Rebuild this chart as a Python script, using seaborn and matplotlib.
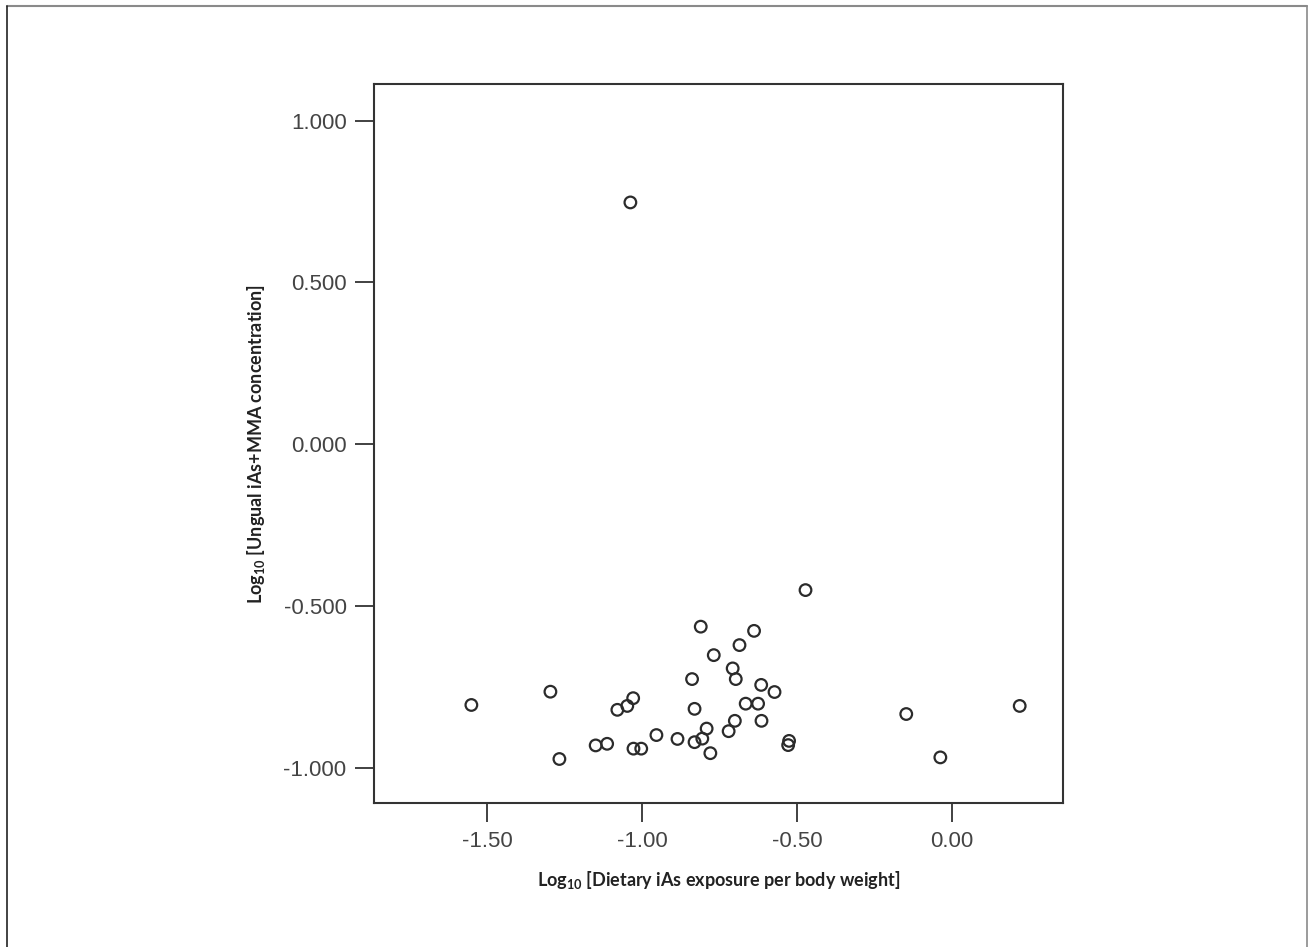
import numpy as np
import pandas as pd
import seaborn as sns
import matplotlib.pyplot as plt
from matplotlib.lines import Line2D
from matplotlib.ticker import FormatStrFormatter

# log10 dietary iAs exposure per body weight vs log10 ungual iAs+MMA
dietary = [-0.473, -0.811, -0.639, -0.686, -0.769, -0.708, -0.839, -0.698, -0.616, -0.573,
           -1.296, -1.029, -1.048, -1.080, -0.666, -0.626, -0.831, -0.615, -0.701, -0.792,
           -0.954, -0.721, -0.886, -0.806, -0.831, -0.526, -0.529, -1.113, -1.150, -1.028,
           -1.003, -0.780, -1.267, -1.551, -0.148, 0.218, -0.038, -1.038]
ungual = [-0.451, -0.564, -0.577, -0.621, -0.652, -0.693, -0.726, -0.726, -0.744, -0.766,
          -0.765, -0.785, -0.809, -0.821, -0.802, -0.802, -0.818, -0.855, -0.855, -0.879,
          -0.899, -0.887, -0.911, -0.910, -0.921, -0.917, -0.930, -0.926, -0.931, -0.941,
          -0.941, -0.955, -0.973, -0.806, -0.834, -0.809, -0.968, 0.747]
xticks = [-1.5, -1.0, -0.5, 0.0]
yticks = [1.0, 0.5, 0.0, -0.5, -1.0]

df = pd.DataFrame({'dietary': dietary, 'ungual': ungual})

sns.set_style('white')
plt.rcParams['font.family'] = ['Liberation Sans', 'DejaVu Sans']
plt.rcParams['mathtext.fontset'] = 'custom'

fig = plt.figure(figsize=(13.08, 9.47), dpi=100)
ax = fig.add_axes([0.2862, 0.1517, 0.5268, 0.7596])

sns.scatterplot(data=df, x='dietary', y='ungual', ax=ax, marker='o', s=70,
                facecolor='none', edgecolor='#2b2b2b', linewidth=1.6, legend=False)

ax.set_xlim(-1.864, 0.359)
ax.set_ylim(-1.110, 1.113)
ax.set_xticks(xticks)
ax.set_yticks(yticks)
ax.xaxis.set_major_formatter(FormatStrFormatter('%.2f'))
ax.yaxis.set_major_formatter(FormatStrFormatter('%.3f'))
ax.tick_params(bottom=True, left=True, direction='out', length=14, width=1.3,
               color='#333333', labelsize=16, labelcolor='#444444', pad=6)
for sp in ax.spines.values():
    sp.set_visible(True)
    sp.set_linewidth(1.5)
    sp.set_color('#333333')

lab = dict(family=['Lato', 'DejaVu Sans'], fontweight='bold', fontsize=13, color='#222222')
ax.set_xlabel(r'Log$_{\mathregular{10}}$ [Dietary iAs exposure per body weight]', labelpad=12, **lab)
ax.set_ylabel(r'Log$_{\mathregular{10}}$ [Ungual iAs+MMA concentration]', labelpad=12, **lab)

# outer frame of the figure
fig.add_artist(Line2D([7 / 1308, 1307 / 1308], [1 - 6 / 947, 1 - 6 / 947], color='#8a8a8a', lw=1.5))
fig.add_artist(Line2D([7 / 1308, 7 / 1308], [0, 1 - 6 / 947], color='#222222', lw=1.2))
fig.add_artist(Line2D([1307 / 1308, 1307 / 1308], [0, 1 - 6 / 947], color='#8a8a8a', lw=1.2))

plt.savefig('out.png', dpi=100)
